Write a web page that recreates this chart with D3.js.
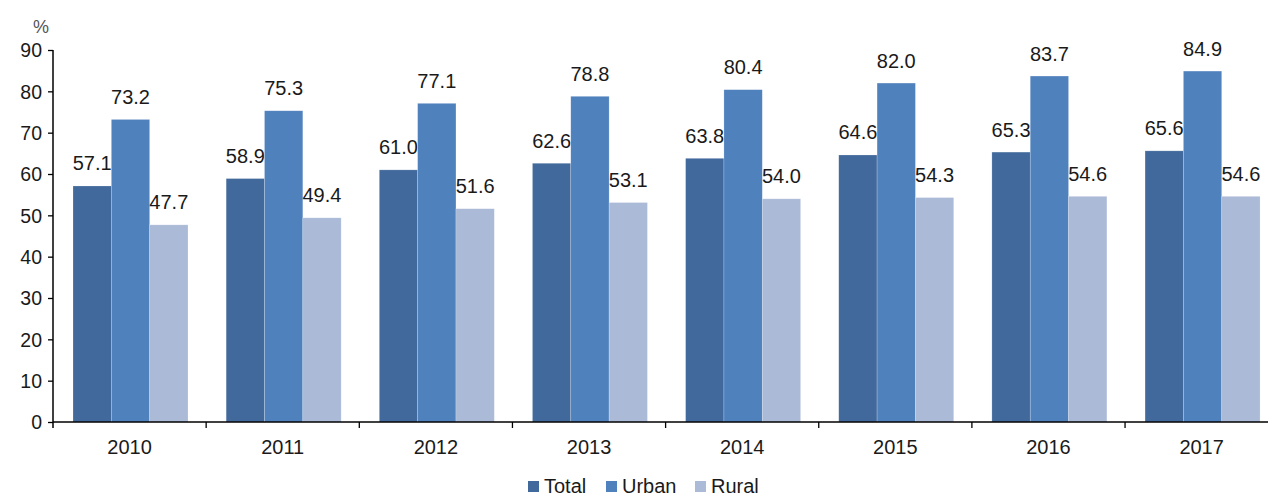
<!DOCTYPE html>
<html><head><meta charset="utf-8">
<script src="https://cdn.jsdelivr.net/npm/d3@7"></script>
<style>body{margin:0;background:#fff}svg{display:block;font-family:"Liberation Sans",Arial,sans-serif}</style>
</head><body><svg id="c" width="1268" height="495"></svg>
<script>
const years = ["2010","2011","2012","2013","2014","2015","2016","2017"];
const seriesNames = ["Total","Urban","Rural"];
const total = [57.1,58.9,61.0,62.6,63.8,64.6,65.3,65.6];
const urban = [73.2,75.3,77.1,78.8,80.4,82.0,83.7,84.9];
const rural = [47.7,49.4,51.6,53.1,54.0,54.3,54.6,54.6];
const yTicks = [0,10,20,30,40,50,60,70,80,90];
const colors = ["#41699B","#4F81BD","#AABAD7"];
const series = [total, urban, rural];

const svg = d3.select("#c");
const x0 = 53, yBottom = 422, yTop = 50, band = 153.15;
const x = d3.scaleBand().domain(years).range([x0, x0 + band*years.length]).paddingInner(0).paddingOuter(0);
const y = d3.scaleLinear().domain([0,90]).range([yBottom, yTop]);
const xs = d3.scaleBand().domain(seriesNames).range([20, 20+115]).padding(0);

const g = svg.append("g");
years.forEach((yr,i)=>{
  seriesNames.forEach((s,j)=>{
    const v = series[j][i];
    const bx = x(yr)+xs(s);
    g.append("rect").attr("x",bx).attr("y",y(v)).attr("width",xs.bandwidth()).attr("height",yBottom-y(v))
      .attr("fill",colors[j]).attr("stroke","rgba(255,255,255,0.35)").attr("stroke-width",0.6);
    g.append("text").attr("x",bx+xs.bandwidth()/2).attr("y",y(v)-15.5).attr("text-anchor","middle")
      .attr("font-size",20).attr("fill","#1a1a1a").text(v.toFixed(1));
  });
});

// y axis
const ya = d3.axisLeft(y).tickValues(yTicks).tickSize(5).tickPadding(6);
const yg = svg.append("g").attr("transform",`translate(${x0},0)`).call(ya);
yg.select(".domain").attr("stroke","#000").attr("stroke-width",1.5).attr("d",`M0,${yTop}V${yBottom+6}`);
yg.selectAll(".tick line").attr("stroke","#000").attr("stroke-width",1.3);
yg.selectAll(".tick text").attr("font-size",19.5).attr("fill","#1a1a1a").attr("font-family","Liberation Sans, Arial, sans-serif").attr("dy","0.35em");

// x axis
const xg = svg.append("g").attr("transform",`translate(0,${yBottom})`);
xg.append("line").attr("x1",x0).attr("x2",1268).attr("y1",0).attr("y2",0).attr("stroke","#000").attr("stroke-width",1.5);
years.forEach((yr,i)=>{
  if(i>0) xg.append("line").attr("x1",x(yr)).attr("x2",x(yr)).attr("y1",0).attr("y2",6).attr("stroke","#000").attr("stroke-width",1.3);
  xg.append("text").attr("x",x(yr)+x.bandwidth()/2).attr("y",32).attr("text-anchor","middle")
    .attr("font-size",20).attr("fill","#1a1a1a").text(yr);
});

svg.append("text").attr("x",41).attr("y",33).attr("text-anchor","middle").attr("font-size",18).attr("fill","#555").text("%");

// legend
const legX = [528, 606, 695];
seriesNames.forEach((s,j)=>{
  svg.append("rect").attr("x",legX[j]).attr("y",481).attr("width",11).attr("height",11).attr("fill",colors[j]);
  svg.append("text").attr("x",legX[j]+16).attr("y",492.5).attr("font-size",20).attr("fill","#1a1a1a").text(s);
});
</script></body></html>
